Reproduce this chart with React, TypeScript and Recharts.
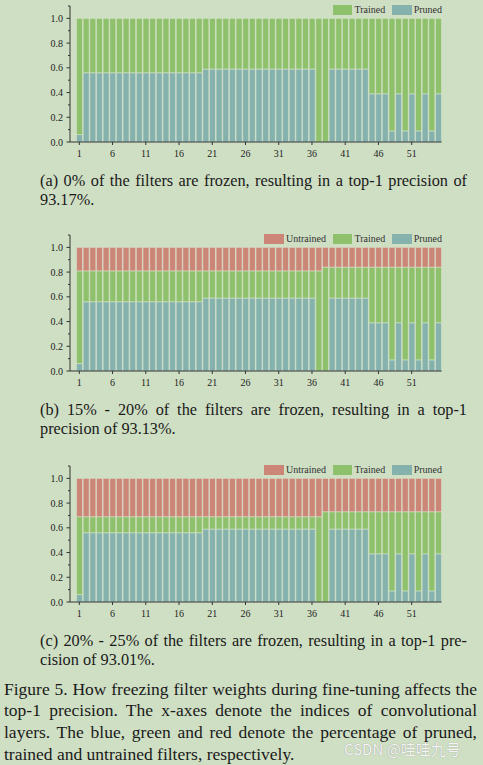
import { BarChart, Bar, XAxis, YAxis, Legend } from "recharts";

// conv layer indices (ResNet-56 style, 55 layers)
const layers = [
  1, 2, 3, 4, 5, 6, 7, 8, 9, 10, 11, 12, 13, 14, 15, 16, 17, 18, 19, 20,
  21, 22, 23, 24, 25, 26, 27, 28, 29, 30, 31, 32, 33, 34, 35, 36, 37, 38, 39, 40,
  41, 42, 43, 44, 45, 46, 47, 48, 49, 50, 51, 52, 53, 54, 55,
];

// share of pruned filters per layer (same in all three panels)
const pruned = [
  0.06,
  0.56, 0.56, 0.56, 0.56, 0.56, 0.56, 0.56, 0.56, 0.56, 0.56, 0.56, 0.56, 0.56, 0.56, 0.56, 0.56, 0.56, 0.56,
  0.59, 0.59, 0.59, 0.59, 0.59, 0.59, 0.59, 0.59, 0.59, 0.59, 0.59, 0.59, 0.59, 0.59, 0.59, 0.59, 0.59,
  0, 0,
  0.59, 0.59, 0.59, 0.59, 0.59, 0.59,
  0.39, 0.39, 0.39,
  0.09, 0.39, 0.09, 0.39, 0.09, 0.39, 0.09, 0.39,
];

// (a) 0% frozen
const trainedA = [
  0.94,
  0.44, 0.44, 0.44, 0.44, 0.44, 0.44, 0.44, 0.44, 0.44, 0.44, 0.44, 0.44, 0.44, 0.44, 0.44, 0.44, 0.44, 0.44,
  0.41, 0.41, 0.41, 0.41, 0.41, 0.41, 0.41, 0.41, 0.41, 0.41, 0.41, 0.41, 0.41, 0.41, 0.41, 0.41, 0.41,
  1.0, 1.0,
  0.41, 0.41, 0.41, 0.41, 0.41, 0.41,
  0.61, 0.61, 0.61,
  0.91, 0.61, 0.91, 0.61, 0.91, 0.61, 0.91, 0.61,
];

// (b) 15% - 20% frozen
const trainedB = [
  0.75,
  0.25, 0.25, 0.25, 0.25, 0.25, 0.25, 0.25, 0.25, 0.25, 0.25, 0.25, 0.25, 0.25, 0.25, 0.25, 0.25, 0.25, 0.25,
  0.22, 0.22, 0.22, 0.22, 0.22, 0.22, 0.22, 0.22, 0.22, 0.22, 0.22, 0.22, 0.22, 0.22, 0.22, 0.22, 0.22,
  0.81, 0.84,
  0.25, 0.25, 0.25, 0.25, 0.25, 0.25,
  0.45, 0.45, 0.45,
  0.75, 0.45, 0.75, 0.45, 0.75, 0.45, 0.75, 0.45,
];
const untrainedB = [
  0.19,
  0.19, 0.19, 0.19, 0.19, 0.19, 0.19, 0.19, 0.19, 0.19, 0.19, 0.19, 0.19, 0.19, 0.19, 0.19, 0.19, 0.19, 0.19,
  0.19, 0.19, 0.19, 0.19, 0.19, 0.19, 0.19, 0.19, 0.19, 0.19, 0.19, 0.19, 0.19, 0.19, 0.19, 0.19, 0.19,
  0.19, 0.16,
  0.16, 0.16, 0.16, 0.16, 0.16, 0.16,
  0.16, 0.16, 0.16,
  0.16, 0.16, 0.16, 0.16, 0.16, 0.16, 0.16, 0.16,
];

// (c) 20% - 25% frozen
const trainedC = [
  0.63,
  0.13, 0.13, 0.13, 0.13, 0.13, 0.13, 0.13, 0.13, 0.13, 0.13, 0.13, 0.13, 0.13, 0.13, 0.13, 0.13, 0.13, 0.13,
  0.10, 0.10, 0.10, 0.10, 0.10, 0.10, 0.10, 0.10, 0.10, 0.10, 0.10, 0.10, 0.10, 0.10, 0.10, 0.10, 0.10,
  0.69, 0.73,
  0.14, 0.14, 0.14, 0.14, 0.14, 0.14,
  0.34, 0.34, 0.34,
  0.64, 0.34, 0.64, 0.34, 0.64, 0.34, 0.64, 0.34,
];
const untrainedC = [
  0.31,
  0.31, 0.31, 0.31, 0.31, 0.31, 0.31, 0.31, 0.31, 0.31, 0.31, 0.31, 0.31, 0.31, 0.31, 0.31, 0.31, 0.31, 0.31,
  0.31, 0.31, 0.31, 0.31, 0.31, 0.31, 0.31, 0.31, 0.31, 0.31, 0.31, 0.31, 0.31, 0.31, 0.31, 0.31, 0.31,
  0.31, 0.27,
  0.27, 0.27, 0.27, 0.27, 0.27, 0.27,
  0.27, 0.27, 0.27,
  0.27, 0.27, 0.27, 0.27, 0.27, 0.27, 0.27, 0.27,
];

const yTicks = [0, 0.1, 0.2, 0.3, 0.4, 0.5, 0.6, 0.7, 0.8, 0.9, 1.0, 1.1];

const BG = "#cfdfc4";
const INK = "#222";
const SERIF = '"Liberation Serif", "DejaVu Serif", serif';
const COLORS: Record<string, string> = {
  untrained: "#cc8677",
  trained: "#8fc16c",
  pruned: "#86b2ad",
};
const NAMES: Record<string, string> = {
  untrained: "Untrained",
  trained: "Trained",
  pruned: "Pruned",
};

const YTick = (props: any) => {
  const { x, y, payload } = props;
  const axisX = x + 7; // tickSize + tickMargin
  const major = Math.round(payload.value * 10) % 2 === 0;
  return (
    <g>
      <line x1={axisX - (major ? 3.5 : 2)} x2={axisX} y1={y} y2={y} stroke="#333" strokeWidth={1} />
      {major && (
        <text x={axisX - 7} y={y} dy={3.5} textAnchor="end" fontSize={10} fill={INK} fontFamily={SERIF}>
          {payload.value.toFixed(1)}
        </text>
      )}
    </g>
  );
};

const LegendBox = ({ keys }: { keys: string[] }) => (
  <div style={{ display: "flex", alignItems: "center", fontFamily: SERIF, fontSize: 10, color: "#333" }}>
    {keys.map((k, i) => (
      <div key={k} style={{ display: "flex", alignItems: "center", marginLeft: i === 0 ? 0 : 7 }}>
        <span style={{ display: "inline-block", width: 19.5, height: 10, background: COLORS[k], marginRight: 2 }} />
        <span>{NAMES[k]}</span>
      </div>
    ))}
  </div>
);

interface PanelProps {
  top: number;
  trained: number[];
  untrained?: number[];
}

const Panel = ({ top, trained, untrained }: PanelProps) => {
  const rows = layers.map((layer, i) => ({
    layer,
    pruned: pruned[i],
    trained: trained[i],
    untrained: untrained ? untrained[i] : 0,
  }));
  const series = untrained ? ["pruned", "trained", "untrained"] : ["pruned", "trained"];
  const legendKeys = untrained ? ["untrained", "trained", "pruned"] : ["trained", "pruned"];

  return (
    <div style={{ position: "absolute", left: 0, top }}>
      <BarChart
        width={483}
        height={162}
        data={rows}
        margin={{ top: 6, right: 41.4, bottom: 0, left: 0 }}
        barCategoryGap="8%"
      >
        <XAxis
          dataKey="layer"
          interval={4}
          height={20}
          tickSize={3}
          tickMargin={5}
          padding={{ left: 6, right: 0 }}
          axisLine={{ stroke: "#333" }}
          tickLine={{ stroke: "#333" }}
          tick={{ fontSize: 10, fill: INK, fontFamily: SERIF }}
        />
        <YAxis
          type="number"
          domain={[0, 1.1]}
          ticks={yTicks}
          width={70}
          tickSize={4}
          tickMargin={3}
          tickLine={false}
          axisLine={{ stroke: "#333" }}
          tick={<YTick />}
          interval={0}
        />
        <Legend
          verticalAlign="middle"
          align="center"
          layout="horizontal"
          wrapperStyle={{ top: 4, right: 41, left: "auto", width: "auto" }}
          content={() => <LegendBox keys={legendKeys} />}
        />
        {series.map((k) => (
          <Bar
            key={k}
            dataKey={k}
            name={NAMES[k]}
            stackId="s"
            fill={COLORS[k]}
            stroke="#dfe8d4"
            strokeWidth={0.5}
            isAnimationActive={false}
          />
        ))}
      </BarChart>
    </div>
  );
};

const CapLine = ({ text, left, top, width, size, lh, full }: any) => (
  <div
    style={{
      position: "absolute",
      left,
      top,
      width,
      fontFamily: SERIF,
      fontSize: size,
      lineHeight: `${lh}px`,
      color: "#1a1a1a",
      textAlign: full ? "justify" : "left",
      textAlignLast: full ? "justify" : "left",
    }}
  >
    {text}
  </div>
);

export default function App() {
  const sub = { left: 40, width: 427, size: 16.3, lh: 18.5 };
  const fig = { left: 4, width: 473, size: 17.5, lh: 22 };
  return (
    <div style={{ position: "fixed", left: 0, top: 0, width: 483, height: 765, background: BG, overflow: "hidden" }}>
      <Panel top={0} trained={trainedA} />
      <CapLine {...sub} top={172.3} full text="(a) 0% of the filters are frozen, resulting in a top-1 precision of" />
      <CapLine {...sub} top={190.7} text="93.17%." />

      <Panel top={229} trained={trainedB} untrained={untrainedB} />
      <CapLine {...sub} top={400.7} full text="(b) 15% - 20% of the filters are frozen, resulting in a top-1" />
      <CapLine {...sub} top={419.7} text="precision of 93.13%." />

      <Panel top={460} trained={trainedC} untrained={untrainedC} />
      <CapLine {...sub} top={632} full text="(c) 20% - 25% of the filters are frozen, resulting in a top-1 pre-" />
      <CapLine {...sub} top={650.7} text="cision of 93.01%." />

      <CapLine {...fig} top={677.5} full text="Figure 5. How freezing filter weights during fine-tuning affects the" />
      <CapLine {...fig} top={699} full text="top-1 precision. The x-axes denote the indices of convolutional" />
      <CapLine {...fig} top={720.7} full text="layers. The blue, green and red denote the percentage of pruned," />
      <CapLine {...fig} top={743} text="trained and untrained filters, respectively." />

      <div
        style={{
          position: "absolute",
          left: 344,
          top: 738,
          fontFamily: '"Noto Sans CJK SC", "Noto Sans", sans-serif',
          fontSize: 15,
          color: "#f4f4f4",
          textShadow: "0 0 1px #8a8a8a",
          whiteSpace: "nowrap",
        }}
      >
        CSDN @哇哇九号
      </div>
    </div>
  );
}
